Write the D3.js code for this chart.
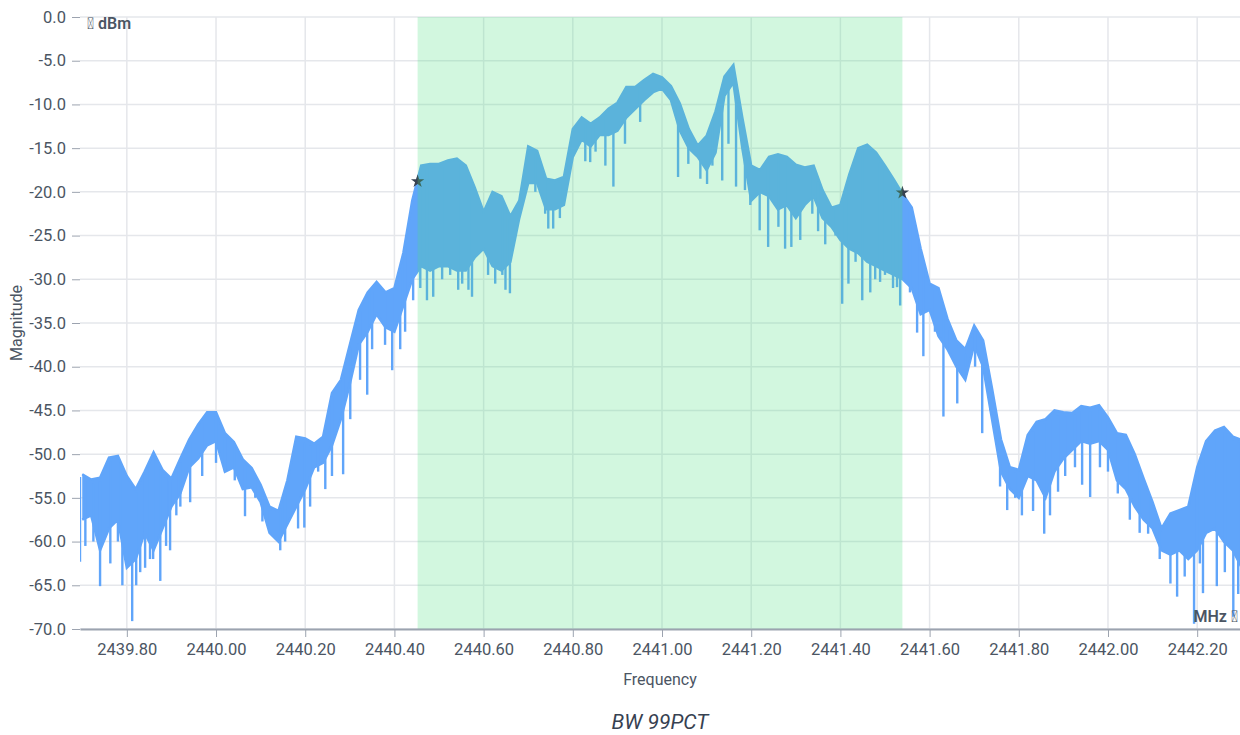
<!DOCTYPE html>
<html>
<head>
<meta charset="utf-8">
<script src="https://cdn.jsdelivr.net/npm/d3@7"></script>
<style>
  body { margin: 0; background: #fff; font-family: Roboto, "Noto Sans", sans-serif; }
  svg text { fill: #4b5563; font-family: Roboto, sans-serif; }
  .grid line { stroke: #e5e7eb; stroke-width: 1.5; }
  .axis line, .axis path { stroke: #9ca3af; }
</style>
</head>
<body>
<svg id="chart" width="1240" height="735"></svg>
<script>
// trace envelope, sampled every 0.02 MHz from 2439.70
const freqs = d3.range(131).map(i => +(2439.70 + i * 0.02).toFixed(2));
const peakDb = [
  -52.3, -52.9, -52.7, -50.4, -50.2, -52.5, -54.0, -52.0, -49.8, -51.8,
  -52.8, -50.5, -48.3, -46.6, -45.2, -45.2, -47.6, -48.6, -50.6, -51.6,
  -53.5, -56.0, -56.5, -53.0, -48.0, -48.2, -48.8, -48.0, -43.0, -41.5,
  -37.5, -33.5, -31.5, -30.3, -31.5, -31.0, -27.0, -21.0, -17.0, -16.8,
  -16.8, -16.4, -16.2, -17.0, -19.5, -22.3, -20.0, -20.5, -22.8, -21.0,
  -14.8, -15.3, -18.5, -18.7, -18.3, -12.8, -11.5, -12.2, -11.5, -10.5,
  -9.8, -8.0, -8.0, -7.2, -6.5, -6.9, -7.9, -9.9, -12.8, -14.7,
  -13.6, -10.8, -6.8, -5.5, -11.5, -17.0, -17.5, -16.0, -15.7, -16.0,
  -16.9, -17.2, -17.0, -19.8, -21.8, -21.5, -18.0, -15.0, -14.6, -15.5,
  -17.0, -18.6, -20.3, -21.8, -26.5, -30.5, -31.0, -34.5, -37.0, -38.0,
  -35.3, -37.0, -42.5, -48.3, -51.5, -51.8, -47.8, -46.3, -46.0, -45.0,
  -45.2, -45.3, -44.5, -44.7, -44.4, -45.8, -47.6, -47.8, -50.0, -52.8,
  -55.5, -58.5, -56.8, -56.4, -56.0, -51.5, -48.5, -47.3, -46.9, -48.0,
  -48.4
];
const floorDb = [
  -57.5, -57.0, -61.0, -58.5, -57.5, -63.0, -62.0, -59.0, -61.0, -58.5,
  -56.0, -54.5, -51.5, -50.5, -49.0, -48.5, -52.0, -51.5, -54.0, -53.8,
  -55.5, -59.0, -60.0, -58.0, -56.0, -54.0, -51.5, -51.0, -49.0, -46.0,
  -42.0, -37.5, -36.0, -34.0, -35.5, -36.0, -33.0, -30.0, -28.5, -29.0,
  -28.5, -28.5, -29.0, -29.0, -27.5, -26.5, -28.5, -29.0, -28.0, -23.0,
  -19.0, -19.0, -22.0, -22.0, -21.5, -16.0, -14.0, -14.8, -13.5, -13.5,
  -13.0, -11.5, -10.5, -9.5, -8.6, -8.2, -9.5, -13.0, -15.0, -16.0,
  -17.5, -15.5, -9.0, -7.5, -15.0, -21.0, -20.0, -20.5, -22.0, -21.5,
  -23.0, -21.5, -20.5, -23.0, -24.0, -25.5, -26.5, -27.0, -28.0, -28.5,
  -29.0, -29.5, -30.0, -31.0, -34.0, -33.5, -36.5, -38.0, -40.0, -41.5,
  -37.5, -40.0, -46.0, -52.0, -54.0, -55.0, -52.5, -53.0, -55.0, -52.0,
  -50.5, -49.5, -48.5, -48.8, -48.5, -49.5, -53.0, -54.0, -56.0, -57.5,
  -58.5, -61.0, -61.5, -61.0, -62.0, -61.0, -59.0, -58.5, -60.0, -61.0,
  -63.0
];
// deep notches below the envelope floor
const spikeFreqs = [
  2439.695, 2439.707, 2439.725, 2439.740, 2439.763, 2439.780, 2439.790, 2439.812, 2439.821, 2439.830,
  2439.841, 2439.852, 2439.859, 2439.875, 2439.888, 2439.897, 2439.911, 2439.920, 2439.942, 2439.969,
  2440.000, 2440.020, 2440.042, 2440.065, 2440.088, 2440.104, 2440.121, 2440.144, 2440.155, 2440.184,
  2440.198, 2440.211, 2440.229, 2440.245, 2440.260, 2440.285, 2440.301, 2440.323, 2440.339, 2440.350,
  2440.379, 2440.395, 2440.413, 2440.424, 2440.442, 2440.458, 2440.473, 2440.487, 2440.507, 2440.525,
  2440.543, 2440.552, 2440.566, 2440.574, 2440.610, 2440.626, 2440.642, 2440.649, 2440.659, 2440.716,
  2440.738, 2440.745, 2440.756, 2440.771, 2440.828, 2440.839, 2440.851, 2440.873, 2440.891, 2440.917,
  2440.951, 2441.036, 2441.059, 2441.086, 2441.101, 2441.113, 2441.135, 2441.149, 2441.166, 2441.186,
  2441.198, 2441.219, 2441.238, 2441.261, 2441.276, 2441.290, 2441.310, 2441.337, 2441.350, 2441.366,
  2441.389, 2441.404, 2441.418, 2441.434, 2441.449, 2441.467, 2441.478, 2441.489, 2441.500, 2441.518,
  2441.527, 2441.534, 2441.556, 2441.572, 2441.586, 2441.612, 2441.631, 2441.646, 2441.662, 2441.680,
  2441.702, 2441.718, 2441.736, 2441.758, 2441.774, 2441.792, 2441.807, 2441.832, 2441.857, 2441.870,
  2441.888, 2441.904, 2441.926, 2441.942, 2441.960, 2441.982, 2442.000, 2442.022, 2442.049, 2442.071,
  2442.090, 2442.116, 2442.140, 2442.155, 2442.172, 2442.193, 2442.206, 2442.213, 2442.244, 2442.262,
  2442.281, 2442.292
];
const spikeDb = [
  -62.3, -60.5, -60.0, -65.1, -62.5, -60.0, -65.0, -69.1, -65.0, -63.5,
  -63.0, -62.0, -62.0, -64.5, -60.5, -61.0, -57.0, -56.0, -55.5, -52.5,
  -51.0, -52.0, -53.0, -57.1, -55.0, -57.7, -58.0, -61.0, -60.0, -58.5,
  -58.4, -56.0, -52.0, -54.0, -52.5, -52.3, -46.0, -41.5, -43.2, -38.0,
  -37.5, -40.4, -38.0, -36.0, -32.4, -31.0, -32.4, -32.0, -30.0, -29.5,
  -31.2, -30.5, -31.2, -32.0, -29.5, -30.5, -29.5, -31.2, -31.6, -20.0,
  -22.5, -24.2, -24.2, -23.0, -16.5, -16.6, -15.4, -17.0, -19.4, -14.5,
  -12.0, -18.3, -16.8, -18.5, -19.1, -17.0, -18.7, -14.5, -19.4, -19.8,
  -21.5, -24.4, -26.3, -24.0, -26.5, -26.3, -25.5, -22.5, -24.5, -26.0,
  -25.0, -32.8, -30.5, -28.0, -32.4, -31.5, -30.0, -30.3, -29.5, -31.0,
  -30.9, -33.0, -31.5, -36.1, -38.8, -36.0, -45.7, -38.0, -44.2, -40.0,
  -40.0, -47.6, -45.0, -53.7, -56.4, -55.0, -57.0, -56.5, -59.1, -57.0,
  -54.3, -52.5, -51.5, -53.5, -54.9, -51.5, -52.0, -54.5, -57.5, -59.0,
  -59.1, -62.0, -64.8, -66.3, -64.0, -69.4, -62.5, -65.9, -65.1, -63.5,
  -68.6, -66.0
];
const bandEdges = [2440.452, 2441.539];
const markerDb = [-18.8, -20.1];
const yTicks = d3.range(0, -71, -5);
const xTicks = [2439.8, 2440.0, 2440.2, 2440.4, 2440.6, 2440.8, 2441.0, 2441.2, 2441.4, 2441.6, 2441.8, 2442.0, 2442.2];

const margin = { top: 17, right: 0, bottom: 106, left: 80 };
const W = 1240, H = 735;
const svg = d3.select("#chart");
const iw = W - margin.left - margin.right;
const ih = H - margin.top - margin.bottom;

const x = d3.scaleLinear().domain([2439.695, 2442.296]).range([0, iw]);
const y = d3.scaleLinear().domain([-70, 0]).range([ih, 0]);

const g = svg.append("g").attr("transform", `translate(${margin.left},${margin.top})`);

// grid
const grid = g.append("g").attr("class", "grid");
grid.selectAll(".h").data(yTicks).enter().append("line")
    .attr("x1", 0).attr("x2", iw).attr("y1", d => y(d)).attr("y2", d => y(d));
grid.selectAll(".v").data(xTicks).enter().append("line")
    .attr("y1", 0).attr("y2", ih).attr("x1", d => x(d)).attr("x2", d => x(d));

// trace
const pts = freqs.map((f, i) => ({ f, hi: peakDb[i], lo: floorDb[i] }));
g.append("defs").append("clipPath").attr("id", "plotClip")
    .append("rect").attr("width", iw).attr("height", ih + 2);
const trace = g.append("g").attr("clip-path", "url(#plotClip)");
const blue = "#60a5fa";

trace.append("path").datum(pts)
    .attr("fill", blue)
    .attr("d", d3.area().x(d => x(d.f)).y0(d => y(d.lo)).y1(d => y(d.hi)));
trace.append("path").datum(pts)
    .attr("fill", "none").attr("stroke", blue).attr("stroke-width", 2.5)
    .attr("d", d3.line().x(d => x(d.f)).y(d => y(d.hi)));
trace.append("path").datum(pts)
    .attr("fill", "none").attr("stroke", blue).attr("stroke-width", 2.5)
    .attr("d", d3.line().x(d => x(d.f)).y(d => y(d.lo)));

const spikes = spikeFreqs.map((f, i) => ({ f, db: spikeDb[i] }));
const peakAt = d3.scaleLinear().domain(freqs).range(peakDb);
trace.selectAll(".spike").data(spikes).enter().append("line")
    .attr("stroke", blue).attr("stroke-width", 2.4)
    .attr("x1", d => x(d.f)).attr("x2", d => x(d.f))
    .attr("y1", d => y(peakAt(d.f)) + 4).attr("y2", d => y(d.db));

// band markers
g.selectAll(".star").data(bandEdges).enter().append("path")
    .attr("d", d3.symbol(d3.symbolStar, 55))
    .attr("fill", "#374151")
    .attr("transform", (d, i) => `translate(${x(d)},${y(markerDb[i])})`);

// 99% occupied bandwidth shading
g.append("rect")
    .attr("x", x(bandEdges[0])).attr("width", x(bandEdges[1]) - x(bandEdges[0]))
    .attr("y", 0).attr("height", ih)
    .attr("fill", "rgba(74, 222, 128, 0.25)");

// axes
const fmtY = d => d3.format(".1f")(d).replace("\u2212", "-");
const yAxis = g.append("g").attr("class", "axis")
    .call(d3.axisLeft(y).tickValues(yTicks).tickFormat(fmtY).tickSize(8).tickPadding(6));
yAxis.select(".domain").remove();

const xAxis = g.append("g").attr("class", "axis").attr("transform", `translate(0,${ih})`)
    .call(d3.axisBottom(x).tickValues(xTicks).tickFormat(d3.format(".2f")).tickSize(8).tickPadding(6).tickSizeOuter(0));
xAxis.select(".domain").attr("stroke", "#d1d5db").attr("stroke-width", 2);

svg.selectAll(".axis text")
    .style("font-family", "Roboto, sans-serif")
    .style("font-size", "16.5px")
    .style("fill", "#4b5563");

// labels
svg.append("text").attr("x", margin.left + iw / 2).attr("y", 685)
    .attr("text-anchor", "middle").style("font-size", "16px").text("Frequency");
svg.append("text").attr("transform", "translate(22,323) rotate(-90)")
    .attr("text-anchor", "middle").style("font-size", "16px").text("Magnitude");
svg.append("text").attr("x", margin.left + iw / 2).attr("y", 729)
    .attr("text-anchor", "middle").style("font-size", "21px").style("font-style", "italic")
    .style("fill", "#374151").text("BW 99PCT");
svg.append("text").attr("x", 87).attr("y", 29)
    .style("font-size", "16px").style("font-weight", "600").text("\uE000 dBm");
svg.append("text").attr("x", 1238).attr("y", 622).attr("text-anchor", "end")
    .style("font-size", "16px").style("font-weight", "600").text("MHz \uE000");
</script>
</body>
</html>
